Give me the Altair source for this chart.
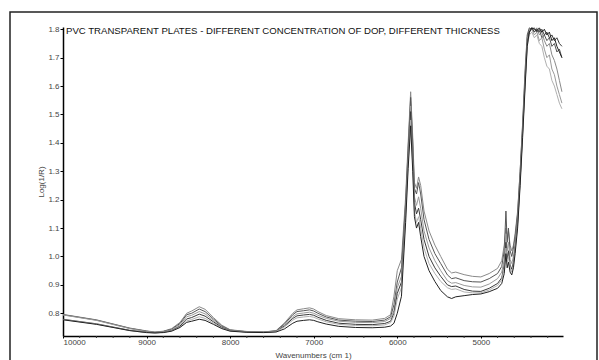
import altair as alt
import pandas as pd

TITLE = "PVC TRANSPARENT PLATES - DIFFERENT CONCENTRATION OF DOP, DIFFERENT THICKNESS"
X_TITLE = "Wavenumbers (cm 1)"
Y_TITLE = "Log(1/R)"
X_TICKS = [10000, 9000, 8000, 7000, 6000, 5000]
Y_TICKS = [0.8, 0.9, 1.0, 1.1, 1.2, 1.3, 1.4, 1.5, 1.6, 1.7, 1.8]
MINOR_TICKS = [9800, 9600, 9400, 9200, 8800, 8600, 8400, 8200, 7800, 7600, 7400, 7200,
               6800, 6600, 6400, 6200, 5800, 5600, 5400, 5200, 4800, 4600, 4400, 4200]

WN = [10000, 9600, 9200, 9000, 8900,
      8800, 8700, 8600, 8520, 8460,
      8370, 8300, 8200, 8100, 8000,
      7800, 7600, 7450, 7350, 7250,
      7200, 7120, 7050, 7000, 6950,
      6850, 6700, 6500, 6300, 6150,
      6080, 6040, 6000, 5950, 5900,
      5870, 5840, 5815, 5795, 5770,
      5745, 5720, 5680, 5620, 5550,
      5480, 5400, 5350, 5300, 5200,
      5100, 5000, 4900, 4800, 4750,
      4720, 4700, 4685, 4670, 4650,
      4630, 4610, 4590, 4560, 4530,
      4500, 4470, 4445, 4420, 4390,
      4360, 4330, 4300, 4270, 4240,
      4210, 4180, 4150, 4120, 4090,
      4060, 4030]

S_A = [.796, .777, .748, .738, .734,
       .737, .746, .768, .800, .808,
       .823, .814, .785, .758, .742,
       .736, .734, .739, .766, .800,
       .812, .816, .819, .815, .806,
       .792, .781, .777, .776, .782,
       .795, .86, .95, .99, 1.21,
       1.40, 1.58, 1.42, 1.26, 1.24,
       1.28, 1.25, 1.16, 1.09, 1.04,
       1.00, .955, .942, .945, .936,
       .930, .928, .940, .958, .985,
       1.04, 1.10, 1.06, 1.09, 1.04,
       1.02, 1.04, 1.08, 1.16, 1.30,
       1.46, 1.64, 1.77, 1.80, 1.805,
       1.79, 1.805, 1.78, 1.79, 1.76,
       1.74, 1.75, 1.71, 1.69, 1.66,
       1.62, 1.58]

S_B = [.795, .776, .747, .737, .733,
       .736, .744, .764, .795, .800,
       .815, .806, .780, .755, .741,
       .735, .734, .738, .762, .795,
       .806, .809, .812, .808, .800,
       .787, .776, .772, .771, .776,
       .788, .83, .91, .96, 1.19,
       1.38, 1.56, 1.40, 1.24, 1.22,
       1.26, 1.22, 1.13, 1.06, 1.01,
       .975, .935, .922, .925, .915,
       .911, .910, .922, .940, .965,
       1.02, 1.16, 1.05, 1.10, 1.02,
       1.00, 1.03, 1.07, 1.15, 1.30,
       1.47, 1.66, 1.78, 1.805, 1.80,
       1.805, 1.79, 1.80, 1.77, 1.78,
       1.76, 1.77, 1.74, 1.75, 1.72,
       1.73, 1.70]

S_C = [.794, .775, .746, .736, .733,
       .735, .742, .760, .788, .793,
       .806, .798, .775, .752, .740,
       .735, .733, .737, .758, .788,
       .798, .801, .804, .800, .793,
       .782, .772, .768, .767, .771,
       .782, .81, .89, .93, 1.17,
       1.36, 1.53, 1.37, 1.21, 1.18,
       1.21, 1.17, 1.09, 1.03, .985,
       .950, .915, .906, .908, .898,
       .893, .892, .903, .922, .945,
       .99, 1.08, 1.02, 1.05, .99,
       .975, 1.00, 1.05, 1.13, 1.28,
       1.45, 1.63, 1.76, 1.79, 1.80,
       1.78, 1.79, 1.76, 1.77, 1.73,
       1.70, 1.71, 1.66, 1.64, 1.60,
       1.57, 1.54]

S_D = [.779, .763, .740, .733, .731,
       .733, .739, .755, .780, .785,
       .797, .790, .770, .750, .739,
       .734, .733, .736, .755, .782,
       .791, .794, .796, .793, .786,
       .775, .765, .761, .760, .764,
       .772, .80, .87, .91, 1.16,
       1.35, 1.51, 1.35, 1.19, 1.15,
       1.17, 1.13, 1.06, 1.00, .960,
       .930, .900, .894, .896, .884,
       .878, .877, .888, .905, .925,
       .97, 1.05, .99, 1.02, .97,
       .955, .98, 1.03, 1.12, 1.27,
       1.44, 1.62, 1.75, 1.79, 1.805,
       1.79, 1.80, 1.79, 1.80, 1.78,
       1.79, 1.77, 1.78, 1.76, 1.77,
       1.75, 1.74]

S_E = [.778, .762, .739, .732, .731,
       .733, .738, .752, .773, .778,
       .788, .782, .765, .748, .738,
       .734, .733, .736, .752, .776,
       .784, .787, .789, .786, .780,
       .770, .761, .757, .756, .759,
       .767, .79, .85, .89, 1.14,
       1.33, 1.48, 1.32, 1.16, 1.12,
       1.14, 1.10, 1.03, .975, .940,
       .912, .890, .884, .886, .875,
       .872, .872, .882, .898, .918,
       .96, 1.03, .98, 1.00, .96,
       .945, .97, 1.02, 1.11, 1.26,
       1.43, 1.61, 1.74, 1.78, 1.79,
       1.77, 1.78, 1.75, 1.74, 1.70,
       1.67, 1.66, 1.62, 1.60, 1.57,
       1.54, 1.52]

S_F = [.777, .761, .739, .732, .731,
       .732, .737, .750, .768, .772,
       .779, .775, .761, .746, .737,
       .733, .732, .734, .745, .765,
       .772, .775, .777, .775, .770,
       .762, .754, .750, .749, .751,
       .755, .765, .80, .86, 1.12,
       1.31, 1.46, 1.30, 1.14, 1.10,
       1.12, 1.07, 1.00, .950, .912,
       .880, .858, .852, .858, .862,
       .866, .868, .876, .888, .905,
       .94, 1.01, .96, .98, .945,
       .935, .96, 1.01, 1.10, 1.25,
       1.42, 1.60, 1.74, 1.79, 1.805,
       1.80, 1.795, 1.805, 1.79, 1.80,
       1.78, 1.79, 1.76, 1.77, 1.74,
       1.72, 1.70]

NAMES = ["A", "B", "C", "D", "E", "F"]
SERIES = [S_A, S_B, S_C, S_D, S_E, S_F]
COLORS = ["#8a8a8a", "#555555", "#9a9a9a", "#3a3a3a", "#b0b0b0", "#222222"]

rows = []
for name, vals in zip(NAMES, SERIES):
    for i, (w, v) in enumerate(zip(WN, vals)):
        rows.append({"wn": w, "v": v, "s": name, "i": i})
df = pd.DataFrame(rows)

W, H = 500, 309
xscale = alt.Scale(domain=[4017, 10000], reverse=True, nice=False, zero=False)
yscale = alt.Scale(domain=[0.72, 1.808], nice=False, zero=False)

lines = alt.Chart(df).mark_line(strokeWidth=1, clip=True).encode(
    x=alt.X("wn:Q", scale=xscale,
            axis=alt.Axis(values=X_TICKS, format="d", title=X_TITLE,
                          labelPadding=0, titlePadding=5, tickSize=2)),
    y=alt.Y("v:Q", scale=yscale,
            axis=alt.Axis(values=Y_TICKS, format=".1f", title=Y_TITLE,
                          labelPadding=1, titlePadding=2, tickSize=3)),
    color=alt.Color("s:N", scale=alt.Scale(domain=NAMES, range=COLORS), legend=None),
    detail="s:N",
    order="i:Q",
)

minor = alt.Chart(pd.DataFrame({"wn": MINOR_TICKS})).mark_rule(
    color="#333", strokeWidth=1
).encode(
    x=alt.X("wn:Q", scale=xscale),
    y=alt.value(H),
    y2=alt.value(H + 2),
)

frame = alt.Chart(pd.DataFrame({"a": [0]})).mark_rect(
    fill=None, stroke="#222", strokeWidth=1.5
).encode(
    x=alt.value(-53), x2=alt.value(534), y=alt.value(-15), y2=alt.value(345)
)

title = alt.Chart(pd.DataFrame({"t": [TITLE]})).mark_text(
    align="left", baseline="middle", fontSize=9.6, font="Liberation Sans", color="#111"
).encode(x=alt.value(3), y=alt.value(3.5), text="t:N")

chart = alt.layer(frame, lines, minor, title).properties(
    width=W, height=H,
    autosize=alt.AutoSizeParams(type="none"),
    padding={"left": 63, "top": 27, "right": 36, "bottom": 24},
    background="white",
).configure_view(stroke=None).configure_axis(
    grid=False,
    domainColor="#000", domainWidth=1.5,
    tickColor="#000", tickWidth=1,
    labelColor="#444", labelFont="Liberation Sans", labelFontSize=8,
    titleColor="#444", titleFont="Liberation Sans", titleFontSize=8, titleFontWeight="normal",
)

chart.save("out.html", embed_options={"renderer": "svg", "actions": False})
